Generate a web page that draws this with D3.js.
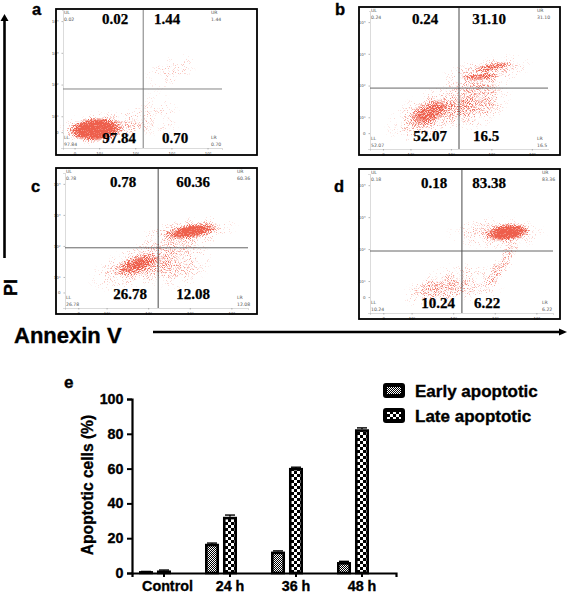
<!DOCTYPE html>
<html>
<head>
<meta charset="utf-8">
<script src="https://cdnjs.cloudflare.com/ajax/libs/d3/7.8.5/d3.min.js"></script>
<style>
html,body{margin:0;padding:0;background:#fff;overflow:hidden}
svg{display:block}
.sans{font-family:"Liberation Sans",Arial,sans-serif;font-weight:bold;stroke:#000;stroke-width:0.35px}
.serif{font-family:"Liberation Serif","Times New Roman",serif;font-weight:bold;stroke:#000;stroke-width:0.25px}
</style>
</head>
<body>
<svg id="c" width="567" height="593"></svg>
<script>
// ---------- data ----------
const panelLetters = ["a","b","c","d"];
const quadrantValues = [            // big labels: UL, UR, LL, LR
  ["0.02","1.44","97.84","0.70"],
  ["0.24","31.10","52.07","16.5"],
  ["0.78","60.36","26.78","12.08"],
  ["0.18","83.38","10.24","6.22"]
];
const gateValues = [                // small instrument labels
  ["0.02","1.44","97.84","0.70"],
  ["0.24","31.10","52.07","16.5"],
  ["0.78","60.36","26.78","12.08"],
  ["0.18","83.36","10.24","6.22"]
];
const gateNames = ["UL","UR","LL","LR"];
const gateX = [2.22, 2.20, 2.24, 2.21];   // quadrant gate, decades
const gateY = [1.86, 1.92, 1.94, 1.94];
const flowTicks = [0.32, 1, 2, 3, 4];
const flowTickLabels = ["0","10¹","10²","10³","10⁴"];
// cell populations, decades on both axes: centre x, centre y, spread x, spread y, tilt, density
const cloudsA = [
  [1.05,0.62,1.35,0.62,-4,0.40],[0.90,0.58,0.85,0.42,-4,1.0],[0.88,0.58,0.72,0.36,-4,1.0],[0.88,0.58,0.60,0.30,-4,1.0],
  [2.98,2.42,0.95,0.55,-25,0.24],[2.65,1.05,0.70,0.95,-40,0.20],[2.05,0.85,0.60,0.60,0,0.18]
];
const cloudsB = [
  [1.50,1.12,1.35,0.82,-25,0.40],[1.48,1.14,0.62,0.38,-25,0.72],
  [2.66,1.45,1.00,0.85,-30,0.44],
  [2.85,2.42,1.35,0.58,-12,0.34],[2.72,2.28,0.55,0.13,-4,0.62],[3.02,2.58,0.55,0.14,-10,0.62]
];
const cloudsC = [
  [1.72,1.36,1.35,0.75,-20,0.38],[1.73,1.40,0.62,0.32,-20,0.74],
  [2.72,1.38,1.00,0.85,-20,0.34],
  [2.95,2.42,1.40,0.58,-9,0.36],[3.03,2.47,0.72,0.26,-9,0.95],[3.05,2.48,0.50,0.18,-9,1.0]
];
const cloudsD = [
  [3.05,2.50,1.35,0.60,0,0.34],[3.30,2.52,0.62,0.30,-6,1.0],[3.32,2.52,0.48,0.24,-6,1.0],
  [3.18,1.52,0.80,0.32,-58,0.40],
  [1.62,0.68,1.00,0.55,-10,0.38],[2.58,0.90,0.75,0.75,0,0.24],[1.85,1.10,0.95,0.52,-20,0.18]
];
const allClouds = [cloudsA, cloudsB, cloudsC, cloudsD];

const categories = ["Control","24 h","36 h","48 h"];
const seriesNames = ["Early apoptotic","Late apoptotic"];
const earlyValues = [0.7, 16.8, 12.3, 6.3];
const lateValues  = [1.4, 32.3, 60.4, 82.6];
const earlyErrors = [0.2, 0.4, 0.4, 0.4];
const lateErrors  = [0.3, 1.0, 0.4, 0.8];
const barTicks = [0,20,40,60,80,100];

// ---------- layout ----------
const frames = [[56,9,201,146],[359,7,201,148],[56,168,201,146],[359,169,201,150]];
const plots  = [[63,222,148,10],[370,548,149,11],[65,248,308,173],[370,553,313,174]];
const bigPos = [
  [[115,24],[167,24],[119,143],[175,143]],
  [[425,24],[489,24],[430,141],[486,141]],
  [[123,187],[193,187],[130,299],[193,299]],
  [[434,188],[489,188],[438,308],[487,308]]
];
const letterPos = [[32,15],[335,15],[31,192],[334,192]];
const speck = "#ee5f4c";

const svg = d3.select("#c");
svg.append("rect").attr("width",567).attr("height",593).attr("fill","#fff");
const defs = svg.append("defs");

// soft edge shared by every cell population
const grad = defs.append("radialGradient").attr("id","fade");
[[0,1],[0.45,0.8],[0.75,0.35],[1,0]].forEach(s=>grad.append("stop")
  .attr("offset",s[0]).attr("stop-color","#000").attr("stop-opacity",s[1]));

// turns smooth density into grainy dots
const f = defs.append("filter").attr("id","grain").attr("filterUnits","userSpaceOnUse")
  .attr("x",0).attr("y",0).attr("width",567).attr("height",360)
  .attr("color-interpolation-filters","sRGB");
f.append("feTurbulence").attr("type","fractalNoise").attr("baseFrequency",1.05)
  .attr("numOctaves",2).attr("seed",7).attr("result","n");
f.append("feColorMatrix").attr("in","n").attr("type","matrix")
  .attr("values","0 0 0 0 0  0 0 0 0 0  0 0 0 0 0  2.4 0 0 0 -0.7").attr("result","na");
f.append("feComposite").attr("in","SourceAlpha").attr("in2","na").attr("operator","arithmetic")
  .attr("k1",0).attr("k2",1.5).attr("k3",1).attr("k4",-1.05).attr("result","m");
const ct = f.append("feComponentTransfer").attr("in","m").attr("result","m2");
ct.append("feFuncA").attr("type","linear").attr("slope",1.5);
f.append("feFlood").attr("flood-color",speck).attr("result","col");
f.append("feComposite").attr("in","col").attr("in2","m2").attr("operator","in").attr("result","dots");
f.append("feGaussianBlur").attr("in","dots").attr("stdDeviation",0.42);

// bar fills
const pFine = defs.append("pattern").attr("id","fine").attr("patternUnits","userSpaceOnUse")
  .attr("width",2).attr("height",2);
pFine.append("rect").attr("width",2).attr("height",2).attr("fill","#000");
pFine.append("rect").attr("width",1).attr("height",1).attr("fill","#fff");
pFine.append("rect").attr("x",1).attr("y",1).attr("width",1).attr("height",1).attr("fill","#fff");
const pCheck = defs.append("pattern").attr("id","check").attr("patternUnits","userSpaceOnUse")
  .attr("width",6).attr("height",6);
pCheck.append("rect").attr("width",6).attr("height",6).attr("fill","#000");
pCheck.append("rect").attr("width",3).attr("height",3).attr("fill","#fff");
pCheck.append("rect").attr("x",3).attr("y",3).attr("width",3).attr("height",3).attr("fill","#fff");

// ---------- flow panels ----------
panelLetters.forEach((letter,i)=>{
  const [xa,xb,yb,yt] = plots[i];
  const x = d3.scaleLinear().domain([0,4.4]).range([xa,xb]);
  const y = d3.scaleLinear().domain([0,4.35]).range([yb,yt]);
  const g = svg.append("g");
  const [fx,fy,fw,fh] = frames[i];

  g.append("g").attr("filter","url(#grain)").selectAll("ellipse").data(allClouds[i]).join("ellipse")
    .attr("cx",d=>x(d[0])).attr("cy",d=>y(d[1]))
    .attr("rx",d=>x(d[2])-x(0)).attr("ry",d=>y(0)-y(d[3]))
    .attr("transform",d=>`rotate(${d[4]} ${x(d[0])} ${y(d[1])})`)
    .attr("fill","url(#fade)").attr("fill-opacity",d=>d[5]);

  // axes
  const axX = d3.axisBottom(x).tickValues(flowTicks).tickFormat((d,k)=>flowTickLabels[k]).tickSize(1.5);
  const axY = d3.axisLeft(y).tickValues(flowTicks.map(t=>t===0.32?0.5:t)).tickFormat((d,k)=>flowTickLabels[k]).tickSize(1.5);
  [g.append("g").attr("transform",`translate(0,${yb})`).call(axX),
   g.append("g").attr("transform",`translate(${xa},0)`).call(axY)].forEach(a=>{
    a.selectAll("path").attr("stroke","#999").attr("stroke-width",0.7).attr("stroke-dasharray","1 1");
    a.selectAll("line").attr("stroke","#888").attr("stroke-width",0.6);
    a.selectAll("text").attr("font-size",4).attr("fill","#555").attr("font-family","DejaVu Sans");
  });

  // quadrant gates
  const gateCol = i===0 ? "#777" : "#555";
  g.append("line").attr("x1",x(gateX[i])).attr("x2",x(gateX[i])).attr("y1",fy+1).attr("y2",yb)
    .attr("stroke",i===0?"#888":"#333").attr("stroke-width",i===0?1.1:0.9);
  g.append("line").attr("x1",xa).attr("x2",xb).attr("y1",y(gateY[i])).attr("y2",y(gateY[i]))
    .attr("stroke",gateCol).attr("stroke-width",0.9);

  // frame
  g.append("rect").attr("x",fx).attr("y",fy).attr("width",fw).attr("height",fh)
    .attr("fill","none").attr("stroke","#000").attr("stroke-width",1.8);

  // instrument labels
  const smallX = [xa+1, xb-11, xa+1, xb-11];
  const smallY = [fy+5, fy+5, yb-9, yb-9];
  gateNames.forEach((n,k)=>{
    const t = g.append("text").attr("font-family","DejaVu Sans").attr("font-size",4.6).attr("fill","#555");
    t.append("tspan").attr("x",smallX[k]).attr("y",smallY[k]).text(n);
    t.append("tspan").attr("x",smallX[k]).attr("y",smallY[k]+7).text(gateValues[i][k]);
  });

  // big labels
  quadrantValues[i].forEach((v,k)=>{
    g.append("text").attr("class","serif").attr("x",bigPos[i][k][0]).attr("y",bigPos[i][k][1])
      .attr("text-anchor","middle").attr("font-size",15).attr("fill","#000").text(v);
  });
  svg.append("text").attr("class","sans").attr("x",letterPos[i][0]).attr("y",letterPos[i][1])
    .attr("font-size",16.5).text(letter);
});

// ---------- big arrows and shared axis titles ----------
const arrowY = svg.append("g");
arrowY.append("line").attr("x1",4.5).attr("x2",4.5).attr("y1",20).attr("y2",258).attr("stroke","#000").attr("stroke-width",2.6);
arrowY.append("path").attr("d","M0.5,21 L4.5,14 L8.5,21 Z").attr("fill","#000");
const arrowX = svg.append("g");
arrowX.append("line").attr("x1",153).attr("x2",560).attr("y1",332).attr("y2",332).attr("stroke","#000").attr("stroke-width",2.4);
arrowX.append("path").attr("d","M559,328.5 L567,332 L559,335.5 Z").attr("fill","#000");
svg.append("text").attr("class","sans").attr("font-size",18)
  .attr("transform","translate(16.5,296) rotate(-90)").text("PI");
svg.append("text").attr("class","sans").attr("font-size",22).attr("x",14).attr("y",343).text("Annexin V");
svg.append("text").attr("class","sans").attr("font-size",17).attr("x",64).attr("y",388).text("e");

// ---------- bar chart ----------
const x0 = d3.scaleBand().domain(categories).range([132,396]);
const x1 = d3.scaleBand().domain(seriesNames).range([7,39]).paddingInner(0.22);
const yB = d3.scaleLinear().domain([0,100]).range([573,399]);
const series = [
  {name:seriesNames[0],vals:earlyValues,errs:earlyErrors,fill:"url(#fine)"},
  {name:seriesNames[1],vals:lateValues,errs:lateErrors,fill:"url(#check)"}
];
const barStroke = 2.6;
series.forEach(s=>{
  const g = svg.append("g");
  categories.forEach((c,k)=>{
    const bx = x0(c)+x1(s.name), bw = x1.bandwidth(), v=s.vals[k], e=s.errs[k];
    const h = yB(0)-yB(v);
    g.append("line").attr("x1",bx+bw/2).attr("x2",bx+bw/2).attr("y1",yB(v)).attr("y2",yB(v+e)).attr("stroke","#000").attr("stroke-width",1.4);
    g.append("line").attr("x1",bx+2).attr("x2",bx+bw-2).attr("y1",yB(v+e)).attr("y2",yB(v+e)).attr("stroke","#000").attr("stroke-width",1.4);
    g.append("rect").attr("x",bx+barStroke/2).attr("y",yB(v)+Math.min(barStroke/2,h/2))
      .attr("width",bw-barStroke).attr("height",Math.max(h-barStroke/2,0.5))
      .attr("fill",s.fill).attr("stroke","#000").attr("stroke-width",barStroke);
  });
});
const axL = svg.append("g").attr("transform","translate(132,0)")
  .call(d3.axisLeft(yB).tickValues(barTicks).tickSizeOuter(0).tickSize(5));
const axB = svg.append("g").attr("transform","translate(0,573)")
  .call(d3.axisBottom(x0).tickSizeOuter(0).tickSize(4));
axB.selectAll("g.tick").attr("transform",d=>`translate(${x0(d)+x1(seriesNames[1])+x1.bandwidth()/2},0)`);
[axL,axB].forEach(a=>{
  a.selectAll("path").attr("stroke","#000").attr("stroke-width",2.2);
  a.selectAll("line").attr("stroke","#000").attr("stroke-width",2);
  a.selectAll("text").attr("class","sans").attr("font-size",14.3).attr("fill","#000");
});
axL.selectAll("text").attr("dx",-0.5);
axB.selectAll("text").attr("y",18).attr("dy",0);
axB.selectAll("g.tick text").filter(d=>d==="Control").attr("dx",3.5);
svg.append("text").attr("class","sans").attr("font-size",15.6).attr("text-anchor","middle")
  .attr("transform","translate(93,485) rotate(-90)").text("Apoptotic cells (%)");

// ---------- legend ----------
const legY = [383,408], legBase=[397,422];
seriesNames.forEach((n,k)=>{
  svg.append("rect").attr("x",385).attr("y",legY[k]+2).attr("width",18).attr("height",11).attr("rx",1)
    .attr("fill",k===0?"url(#fine)":"url(#check)").attr("stroke","#000").attr("stroke-width",4);
  svg.append("text").attr("class","sans").attr("x",415).attr("y",legBase[k]).attr("font-size",17).text(n);
});
</script>
</body>
</html>
